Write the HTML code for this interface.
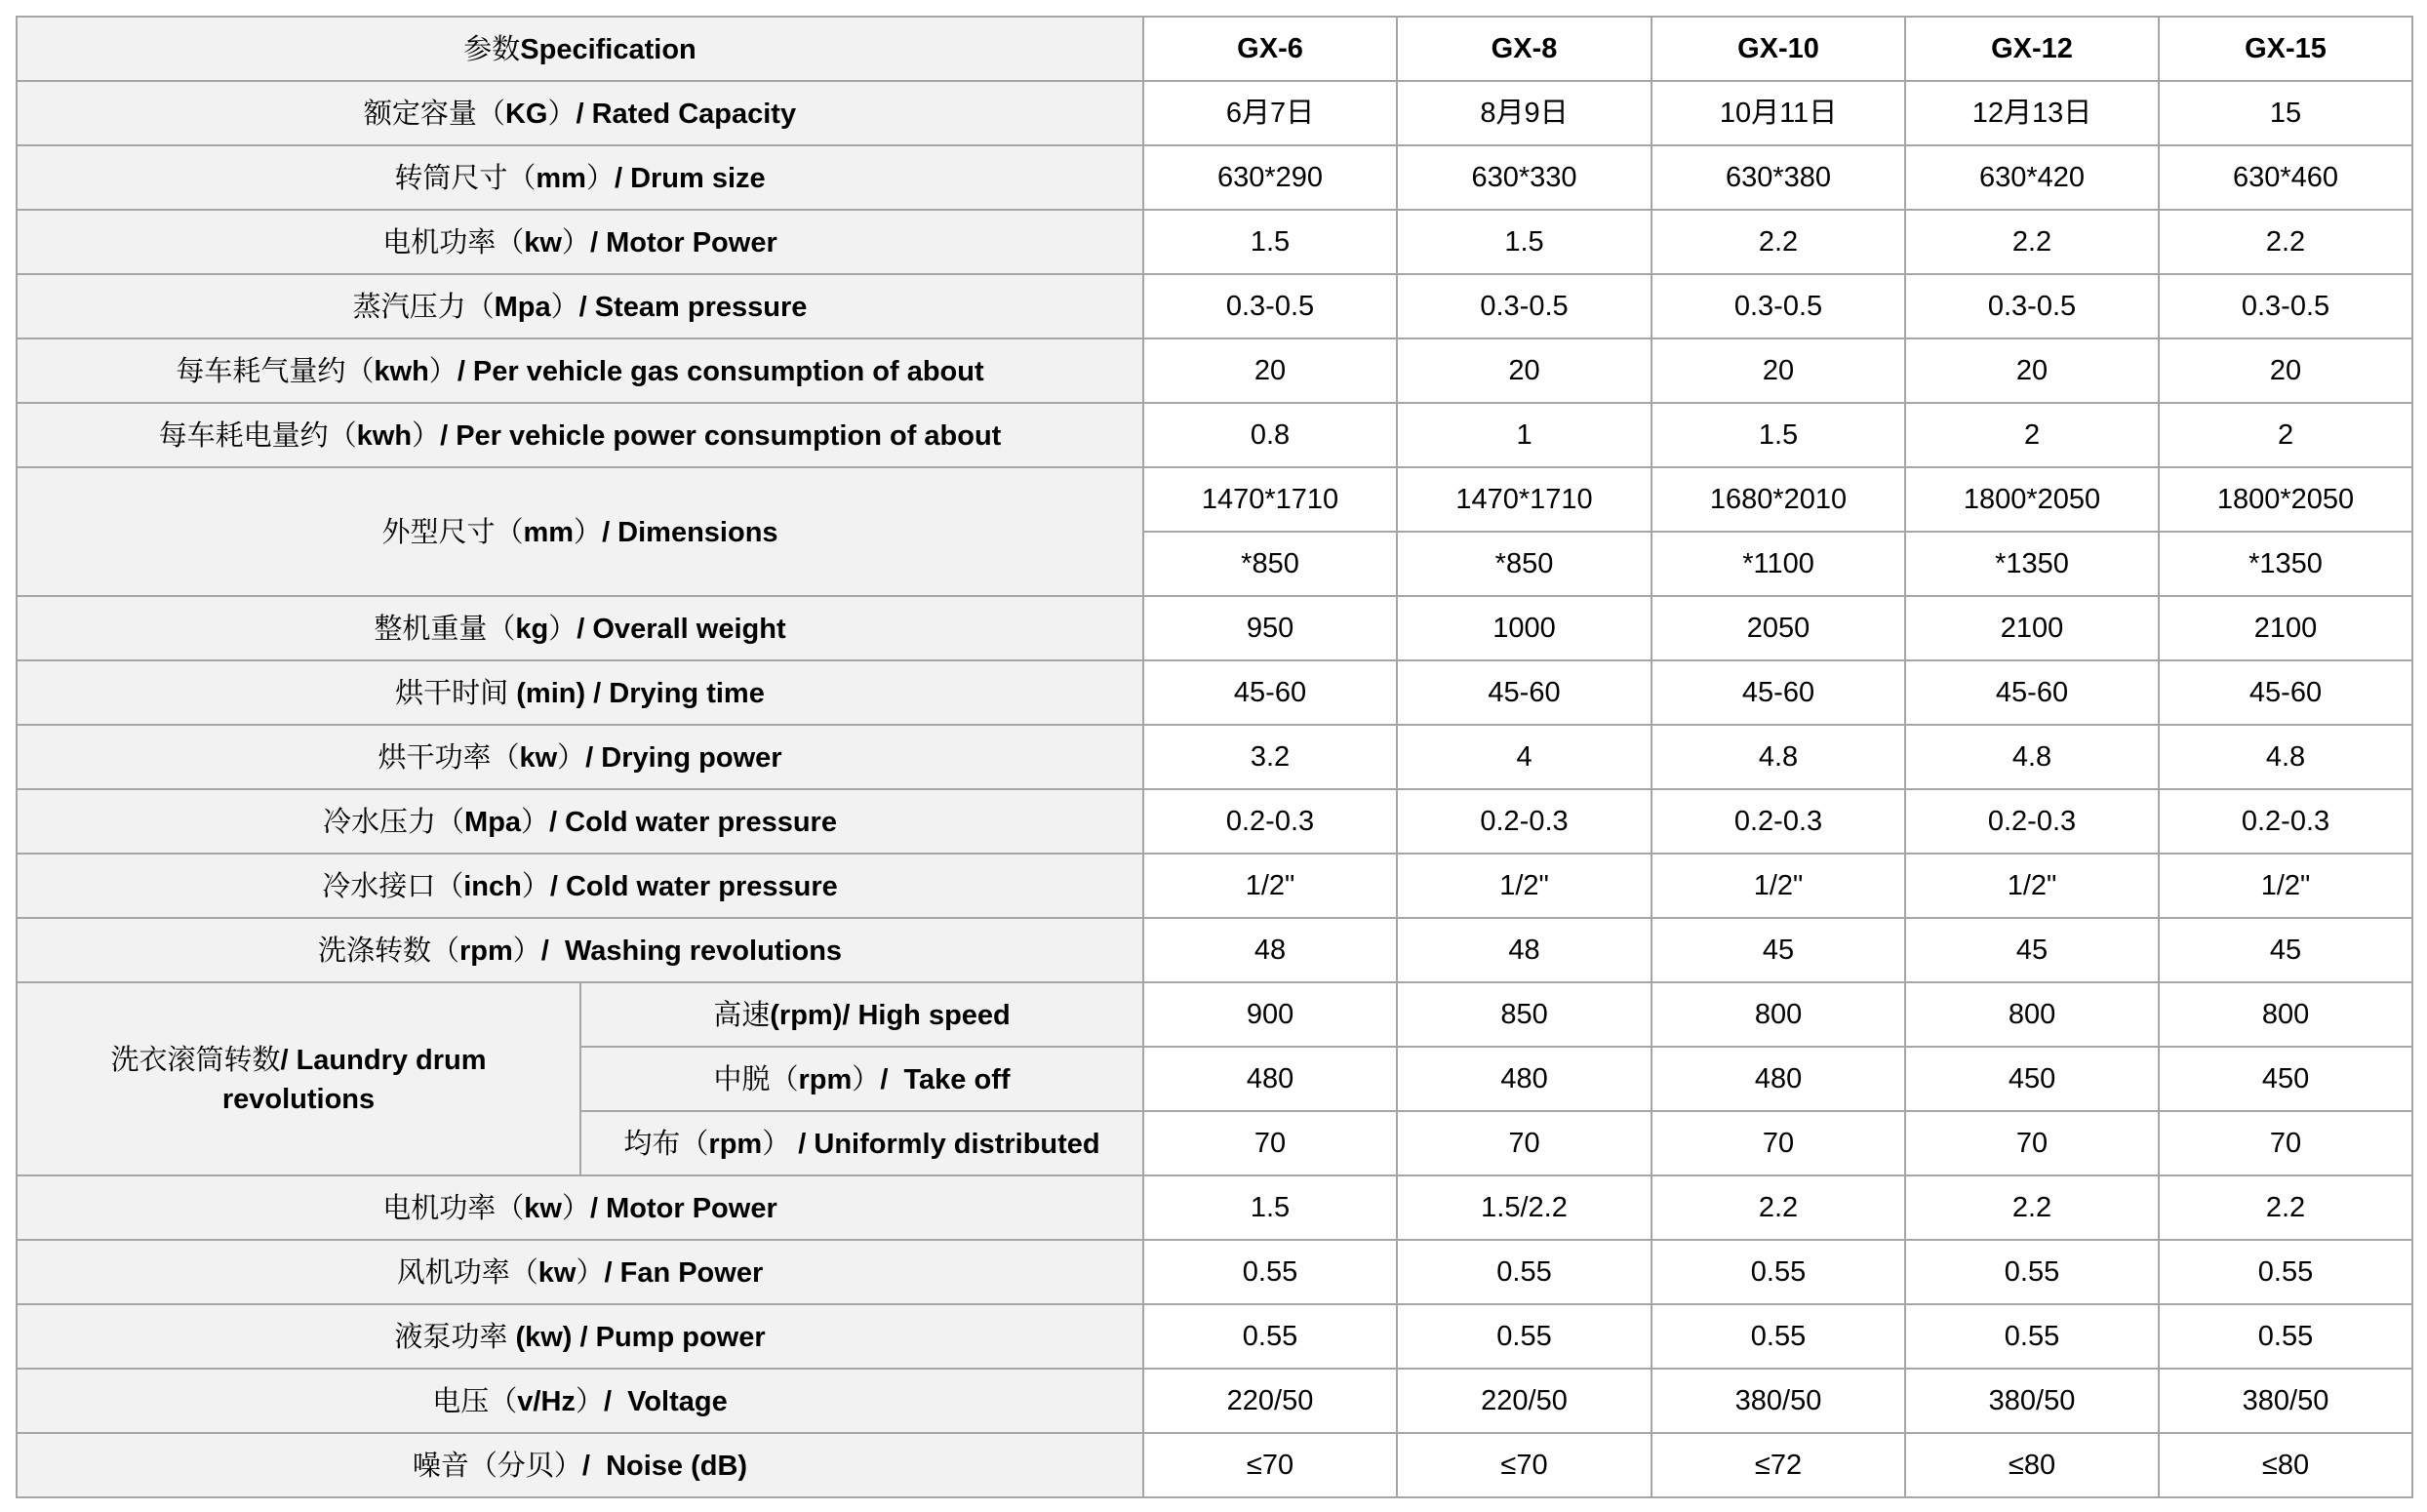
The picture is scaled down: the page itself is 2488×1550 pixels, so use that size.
<!DOCTYPE html>
<html><head><meta charset="utf-8"><style>
html,body{margin:0;padding:0;background:#fff;width:2488px;height:1550px;overflow:hidden}
table{position:absolute;left:16px;top:16px;border-collapse:collapse;table-layout:fixed;width:2456px}
td{border:2px solid #a6a6a6;height:64px;padding:0;text-align:center;vertical-align:middle;font-family:"Liberation Sans","Noto Sans CJK SC",sans-serif;font-size:29px;color:#000;line-height:36px}
td.l{background:#f2f2f2;font-weight:bold;font-size:29px}
td.h{font-weight:bold}
.c{font-family:"Noto Serif CJK SC","Noto Sans CJK SC",serif;font-weight:normal}
</style></head><body>
<table>
<colgroup><col style="width:578px"><col style="width:577px"><col style="width:260px"><col style="width:261px"><col style="width:260px"><col style="width:260px"><col style="width:260px"></colgroup>
<tr><td class="l" colspan="2"><span class="c">参数</span>Specification</td><td class="h">GX-6</td><td class="h">GX-8</td><td class="h">GX-10</td><td class="h">GX-12</td><td class="h">GX-15</td></tr>
<tr><td class="l" colspan="2"><span class="c">额定容量（</span>KG<span class="c">）</span>/ Rated Capacity</td><td>6月7日</td><td>8月9日</td><td>10月11日</td><td>12月13日</td><td>15</td></tr>
<tr><td class="l" colspan="2"><span class="c">转筒尺寸（</span>mm<span class="c">）</span>/ Drum size</td><td>630*290</td><td>630*330</td><td>630*380</td><td>630*420</td><td>630*460</td></tr>
<tr><td class="l" colspan="2"><span class="c">电机功率（</span>kw<span class="c">）</span>/ Motor Power</td><td>1.5</td><td>1.5</td><td>2.2</td><td>2.2</td><td>2.2</td></tr>
<tr><td class="l" colspan="2"><span class="c">蒸汽压力（</span>Mpa<span class="c">）</span>/ Steam pressure</td><td>0.3-0.5</td><td>0.3-0.5</td><td>0.3-0.5</td><td>0.3-0.5</td><td>0.3-0.5</td></tr>
<tr><td class="l" colspan="2"><span class="c">每车耗气量约（</span>kwh<span class="c">）</span>/ Per vehicle gas consumption of about</td><td>20</td><td>20</td><td>20</td><td>20</td><td>20</td></tr>
<tr><td class="l" colspan="2"><span class="c">每车耗电量约（</span>kwh<span class="c">）</span>/ Per vehicle power consumption of about</td><td>0.8</td><td>1</td><td>1.5</td><td>2</td><td>2</td></tr>
<tr><td class="l" colspan="2" rowspan="2"><span class="c">外型尺寸（</span>mm<span class="c">）</span>/ Dimensions</td><td>1470*1710</td><td>1470*1710</td><td>1680*2010</td><td>1800*2050</td><td>1800*2050</td></tr>
<tr><td>*850</td><td>*850</td><td>*1100</td><td>*1350</td><td>*1350</td></tr>
<tr><td class="l" colspan="2"><span class="c">整机重量（</span>kg<span class="c">）</span>/ Overall weight</td><td>950</td><td>1000</td><td>2050</td><td>2100</td><td>2100</td></tr>
<tr><td class="l" colspan="2"><span class="c">烘干时间</span> (min) / Drying time</td><td>45-60</td><td>45-60</td><td>45-60</td><td>45-60</td><td>45-60</td></tr>
<tr><td class="l" colspan="2"><span class="c">烘干功率（</span>kw<span class="c">）</span>/ Drying power</td><td>3.2</td><td>4</td><td>4.8</td><td>4.8</td><td>4.8</td></tr>
<tr><td class="l" colspan="2"><span class="c">冷水压力（</span>Mpa<span class="c">）</span>/ Cold water pressure</td><td>0.2-0.3</td><td>0.2-0.3</td><td>0.2-0.3</td><td>0.2-0.3</td><td>0.2-0.3</td></tr>
<tr><td class="l" colspan="2"><span class="c">冷水接口（</span>inch<span class="c">）</span>/ Cold water pressure</td><td>1/2"</td><td>1/2"</td><td>1/2"</td><td>1/2"</td><td>1/2"</td></tr>
<tr><td class="l" colspan="2"><span class="c">洗涤转数（</span>rpm<span class="c">）</span>/&nbsp; Washing revolutions</td><td>48</td><td>48</td><td>45</td><td>45</td><td>45</td></tr>
<tr><td class="l" rowspan="3" style="line-height:40px"><span class="c">洗衣滚筒转数</span>/ Laundry drum<br>revolutions</td><td class="l"><span class="c">高速</span>(rpm)/ High speed</td><td>900</td><td>850</td><td>800</td><td>800</td><td>800</td></tr>
<tr><td class="l"><span class="c">中脱（</span>rpm<span class="c">）</span>/&nbsp; Take off</td><td>480</td><td>480</td><td>480</td><td>450</td><td>450</td></tr>
<tr><td class="l"><span class="c">均布（</span>rpm<span class="c">）</span>&nbsp;/ Uniformly distributed</td><td>70</td><td>70</td><td>70</td><td>70</td><td>70</td></tr>
<tr><td class="l" colspan="2"><span class="c">电机功率（</span>kw<span class="c">）</span>/ Motor Power</td><td>1.5</td><td>1.5/2.2</td><td>2.2</td><td>2.2</td><td>2.2</td></tr>
<tr><td class="l" colspan="2"><span class="c">风机功率（</span>kw<span class="c">）</span>/ Fan Power</td><td>0.55</td><td>0.55</td><td>0.55</td><td>0.55</td><td>0.55</td></tr>
<tr><td class="l" colspan="2"><span class="c">液泵功率</span> (kw) / Pump power</td><td>0.55</td><td>0.55</td><td>0.55</td><td>0.55</td><td>0.55</td></tr>
<tr><td class="l" colspan="2"><span class="c">电压（</span>v/Hz<span class="c">）</span>/&nbsp; Voltage</td><td>220/50</td><td>220/50</td><td>380/50</td><td>380/50</td><td>380/50</td></tr>
<tr><td class="l" colspan="2"><span class="c">噪音（分贝）</span>/&nbsp; Noise (dB)</td><td>≤70</td><td>≤70</td><td>≤72</td><td>≤80</td><td>≤80</td></tr>
</table>
</body></html>
